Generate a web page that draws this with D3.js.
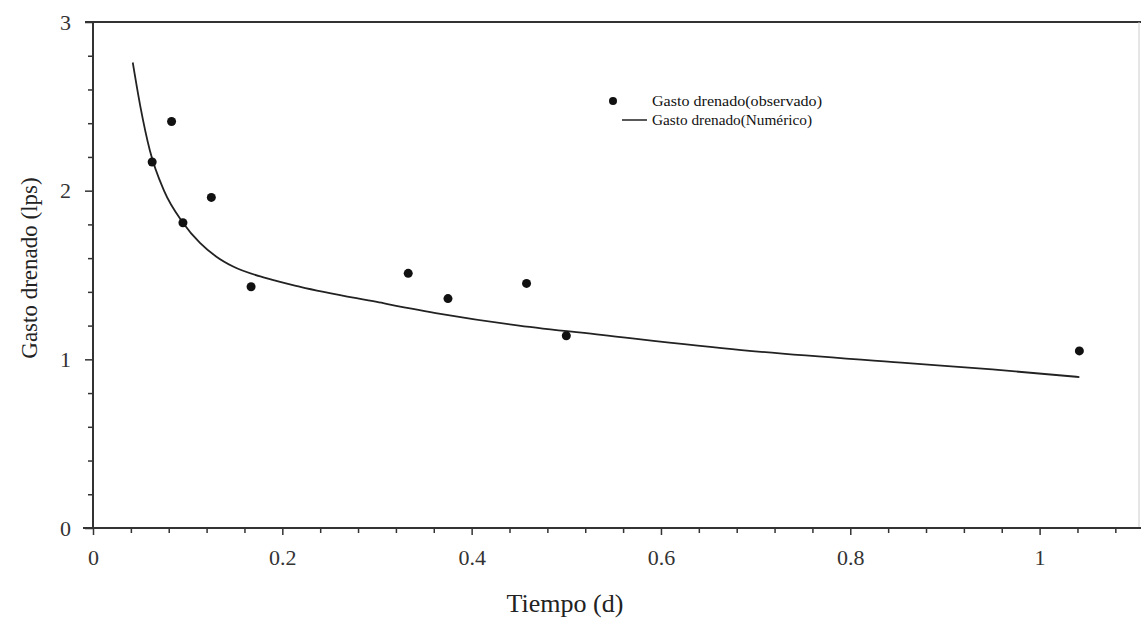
<!DOCTYPE html>
<html>
<head>
<meta charset="utf-8">
<script src="https://cdn.jsdelivr.net/npm/d3@7"></script>
<style>
  body { margin: 0; background: #fff; }
</style>
</head>
<body>
<svg id="chart" width="1141" height="626"></svg>
<script>
// observed drained flow (points)
const obsTime = [0.0625, 0.083, 0.095, 0.125, 0.167, 0.333, 0.375, 0.458, 0.5, 1.042];
const obsFlow = [2.17, 2.41, 1.81, 1.96, 1.43, 1.51, 1.36, 1.45, 1.14, 1.05];

// numerical drained flow (curve)
const numTime = [0.042, 0.05, 0.06, 0.075, 0.095, 0.113, 0.13, 0.148, 0.184, 0.219, 0.30, 0.367, 0.45, 0.537, 0.685, 0.854, 0.95, 1.042];
const numFlow = [2.76, 2.50, 2.24, 2.00, 1.81, 1.69, 1.61, 1.55, 1.48, 1.43, 1.34, 1.27, 1.20, 1.145, 1.055, 0.98, 0.94, 0.895];

const xTicks = [0, 0.2, 0.4, 0.6, 0.8, 1];
const yTicks = [0, 1, 2, 3];
const legendLabels = ["Gasto drenado(observado)", "Gasto drenado(Numérico)"];

const serif = "'Liberation Serif', 'Times New Roman', 'DejaVu Serif', serif";

const svg = d3.select("#chart");

const x = d3.scaleLinear().domain([0, 1.105]).range([93, 1139]);
const y = d3.scaleLinear().domain([0, 3]).range([528, 22]);

// frame: top and right
svg.append("line")
  .attr("x1", 85).attr("x2", 1141)
  .attr("y1", y(3)).attr("y2", y(3))
  .attr("stroke", "#333").attr("stroke-width", 2);
svg.append("line")
  .attr("x1", 1139).attr("x2", 1139)
  .attr("y1", y(3)).attr("y2", y(0))
  .attr("stroke", "#ccc").attr("stroke-width", 1);

// x axis
const xMinor = d3.range(0, 1.1, 0.04).filter(v => xTicks.every(t => Math.abs(t - v) > 1e-6));
const gx = svg.append("g").attr("transform", "translate(0," + y(0) + ")");
gx.call(d3.axisBottom(x).tickValues(xMinor).tickSize(5).tickFormat(""));
gx.select(".domain").remove();
const gx2 = svg.append("g").attr("transform", "translate(0," + y(0) + ")");
gx2.call(d3.axisBottom(x).tickValues(xTicks).tickSize(7).tickPadding(14)
  .tickFormat(d => d === 0 ? "0" : d === 1 ? "1" : d3.format(".1f")(d)));
gx2.select(".domain").remove();
svg.append("line")
  .attr("x1", 83).attr("x2", 1141)
  .attr("y1", y(0)).attr("y2", y(0))
  .attr("stroke", "#333").attr("stroke-width", 2);

// y axis
const yMinor = d3.range(0, 3.01, 0.2).filter(v => yTicks.every(t => Math.abs(t - v) > 1e-6));
const gy = svg.append("g").attr("transform", "translate(" + x(0) + ",0)");
gy.call(d3.axisLeft(y).tickValues(yMinor).tickSize(5).tickFormat(""));
gy.select(".domain").remove();
const gy2 = svg.append("g").attr("transform", "translate(" + x(0) + ",0)");
gy2.call(d3.axisLeft(y).tickValues(yTicks).tickSize(8).tickPadding(14).tickFormat(d3.format("d")));
gy2.select(".domain").remove();
svg.append("line")
  .attr("x1", x(0)).attr("x2", x(0))
  .attr("y1", y(3)).attr("y2", y(0))
  .attr("stroke", "#333").attr("stroke-width", 2);

svg.selectAll("g").attr("font-family", serif);
svg.selectAll(".tick line").attr("stroke", "#333").attr("stroke-width", 1.5);
svg.selectAll(".tick text")
  .attr("font-size", 22)
  .attr("font-family", serif)
  .attr("fill", "#333");

// axis titles
svg.append("text")
  .attr("x", 565).attr("y", 612)
  .attr("text-anchor", "middle")
  .attr("font-family", serif)
  .attr("font-size", 26)
  .attr("fill", "#222")
  .text("Tiempo (d)");
svg.append("text")
  .attr("transform", "translate(37,268) rotate(-90)")
  .attr("text-anchor", "middle")
  .attr("font-family", serif)
  .attr("font-size", 23)
  .attr("fill", "#222")
  .text("Gasto drenado (lps)");

// numerical curve
const line = d3.line()
  .x((d, i) => x(numTime[i]))
  .y((d, i) => y(numFlow[i]))
  .curve(d3.curveMonotoneX);
svg.append("path")
  .datum(numFlow)
  .attr("d", line)
  .attr("fill", "none")
  .attr("stroke", "#222")
  .attr("stroke-width", 1.8);

// observed points
svg.selectAll("circle.obs")
  .data(obsFlow)
  .enter().append("circle")
  .attr("class", "obs")
  .attr("cx", (d, i) => x(obsTime[i]))
  .attr("cy", d => y(d))
  .attr("r", 4.5)
  .attr("fill", "#111");

// legend
const lg = svg.append("g").attr("transform", "translate(613,101)");
lg.append("circle").attr("cx", 0).attr("cy", 0).attr("r", 4).attr("fill", "#111");
lg.append("line").attr("x1", 9).attr("x2", 34).attr("y1", 19).attr("y2", 19)
  .attr("stroke", "#222").attr("stroke-width", 1.5);
lg.selectAll("text.leg")
  .data(legendLabels)
  .enter().append("text")
  .attr("class", "leg")
  .attr("x", 39)
  .attr("y", (d, i) => 5 + i * 19)
  .attr("font-family", serif)
  .attr("font-size", 15)
  .attr("fill", "#111")
  .attr("textLength", (d, i) => i === 0 ? 170 : 160)
  .attr("lengthAdjust", "spacingAndGlyphs")
  .text(d => d);
</script>
</body>
</html>
